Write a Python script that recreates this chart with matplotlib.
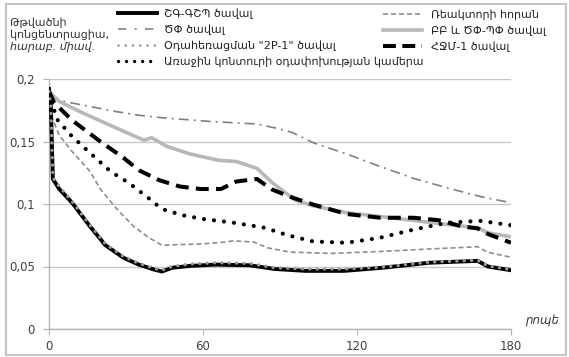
import matplotlib.pyplot as plt
from matplotlib.lines import Line2D
from matplotlib.patches import Rectangle

plt.rcParams['font.family'] = ['DejaVu Sans']

# time, minutes / concentration values
x_shg = [0, 0.7, 1.5, 4, 9, 16, 22, 29, 35, 41, 44, 48, 55, 65, 78, 88, 100, 115, 130, 148, 167, 171, 180]
y_shg = [0.192, 0.18, 0.12, 0.112, 0.101, 0.082, 0.067, 0.057, 0.0515, 0.0475, 0.046, 0.049, 0.0505,
         0.0515, 0.051, 0.048, 0.0465, 0.0465, 0.049, 0.053, 0.0545, 0.05, 0.047]

x_cp = [0, 6, 16, 26, 35, 44, 63, 81, 90, 95, 103, 116, 129, 142, 155, 168, 180]
y_cp = [0.186, 0.182, 0.178, 0.174, 0.171, 0.169, 0.166, 0.164, 0.16, 0.157, 0.149, 0.14, 0.13,
        0.1205, 0.113, 0.106, 0.101]

x_od = [0, 0.7, 1.5, 4, 9, 16, 22, 29, 35, 41, 44, 48, 55, 65, 78, 88, 100, 115, 130, 148, 167, 171, 180]
y_od = [0.19, 0.178, 0.121, 0.114, 0.102, 0.083, 0.068, 0.058, 0.0525, 0.0485, 0.047, 0.05, 0.052,
        0.053, 0.0525, 0.049, 0.048, 0.048, 0.0495, 0.0535, 0.055, 0.0505, 0.0475]

x_ar = [0, 3, 9, 17, 24, 31, 38, 44, 52, 60, 72, 84, 93, 103, 116, 129, 142, 155, 168, 180]
y_ar = [0.19, 0.168, 0.154, 0.139, 0.126, 0.117, 0.106, 0.096, 0.091, 0.088, 0.085, 0.081, 0.075,
        0.07, 0.069, 0.073, 0.0795, 0.085, 0.0865, 0.083]

x_re = [0, 1, 4, 9, 16, 20, 26, 33, 39, 44, 50, 59, 66, 72, 80, 85, 94, 110, 129, 148, 167, 171, 180]
y_re = [0.19, 0.17, 0.155, 0.142, 0.126, 0.112, 0.097, 0.082, 0.073, 0.067, 0.0675, 0.068, 0.069,
        0.0705, 0.0695, 0.065, 0.0615, 0.0605, 0.062, 0.064, 0.0658, 0.0613, 0.0574]

x_bb = [0, 4, 13, 26, 37, 40, 46, 55, 66, 73, 81, 87, 96, 103, 116, 129, 142, 155, 167, 171, 180]
y_bb = [0.19, 0.182, 0.173, 0.161, 0.151, 0.153, 0.146, 0.14, 0.135, 0.134, 0.1285, 0.117, 0.103,
        0.0985, 0.093, 0.09, 0.0868, 0.0837, 0.081, 0.077, 0.0737]

x_hj = [0, 2, 9, 20, 29, 35, 43, 51, 59, 67, 73, 81, 87, 95, 103, 116, 129, 142, 152, 161, 167, 171, 180]
y_hj = [0.19, 0.181, 0.167, 0.15, 0.137, 0.127, 0.119, 0.114, 0.112, 0.112, 0.118, 0.12, 0.1115,
        0.105, 0.0995, 0.092, 0.089, 0.089, 0.087, 0.082, 0.0805, 0.076, 0.069]

labels = ['ՇԳ-ԳՇՊ ծավալ', 'ԾՓ ծավալ', 'Օդահեռացման "2P-1" ծավալ',
          'Առաջին կոնտուրի օդափոխության կամերա', 'Ռեակտորի հորան',
          'ԲԲ և ԾՓ-ՊՓ ծավալ', 'ՀՋՄ-1 ծավալ']
xticks = [0, 60, 120, 180]
yticks = [0, 0.05, 0.1, 0.15, 0.2]
yticklabels = ['0', '0,05', '0,1', '0,15', '0,2']

fig = plt.figure(figsize=(5.69, 3.57), dpi=100)
ax = fig.add_axes([49 / 569, 1 - 329 / 357, 462 / 569, 250 / 357])

ax.plot(x_re, y_re, color='#8c8c8c', lw=1.2, ls=(0, (3, 1.8)), zorder=3)
ax.plot(x_cp, y_cp, color='#808080', lw=1.2, ls=(0, (6, 3, 1.2, 3)), zorder=3)
ax.plot(x_bb, y_bb, color='#b8b8b8', lw=2.6, solid_capstyle='butt', zorder=3)
ax.plot(x_hj, y_hj, color='black', lw=2.9, ls=(0, (3.2, 1.8)), zorder=4)
ax.plot(x_ar, y_ar, color='black', lw=3.0, ls=(0, (0.01, 2.4)), dash_capstyle='round', zorder=4)
ax.plot(x_shg, y_shg, color='black', lw=2.8, zorder=5)
ax.plot(x_od, y_od, color='#9a9a9a', lw=2.4, ls=(0, (0.01, 2.2)), dash_capstyle='round', zorder=6)

ax.set_xlim(0, 180)
ax.set_ylim(0, 0.2)
ax.set_xticks(xticks)
ax.set_xticklabels([str(t) for t in xticks])
ax.set_yticks(yticks)
ax.set_yticklabels(yticklabels)
ax.yaxis.grid(True, color='#c8c8c8', lw=1)
ax.set_axisbelow(True)
for s in ['top', 'right']:
    ax.spines[s].set_visible(False)
for s in ['left', 'bottom']:
    ax.spines[s].set_color('#b4b4b4')
    ax.spines[s].set_linewidth(1)
ax.tick_params(axis='both', colors='#b4b4b4', labelcolor='#404040', labelsize=8.5, length=4)
ax.tick_params(axis='y', pad=6)
ax.tick_params(axis='x', pad=4)

ax.text(1.068, 0.035, 'րոպե', transform=ax.transAxes, ha='center', va='center',
        fontsize=8.5, style='italic', color='#333333')

fig.text(10 / 569, 1 - 23 / 357, 'Թթվածնի', fontsize=8, color='#333333', va='center')
fig.text(10 / 569, 1 - 35 / 357, 'կոնցենտրացիա,', fontsize=8, color='#333333', va='center')
fig.text(10 / 569, 1 - 47 / 357, 'հարաբ. միավ.', fontsize=8, color='#333333', va='center', style='italic')

# legend handles
h = [
    Line2D([], [], color='black', lw=2.8),
    Line2D([], [], color='#808080', lw=1.2, ls=(0, (5, 5, 1.2, 5))),
    Line2D([], [], color='#9a9a9a', lw=2.0, ls=(0, (0.01, 2.6)), dash_capstyle='round'),
    Line2D([], [], color='black', lw=2.4, ls=(0, (0.01, 2.4)), dash_capstyle='round'),
    Line2D([], [], color='#8c8c8c', lw=1.2, ls=(0, (3, 1.8))),
    Line2D([], [], color='#b8b8b8', lw=2.6),
    Line2D([], [], color='black', lw=2.9, ls=(0, (3.2, 1.6))),
]
leg_kw = dict(frameon=False, fontsize=8, borderpad=0, borderaxespad=0,
              handlelength=3.5, labelspacing=0.48, labelcolor='#222222')
fig.legend(h[:4], labels[:4], loc='upper left', bbox_to_anchor=(118 / 569, 1 - 8 / 357),
           handletextpad=0.6, **leg_kw)
fig.legend(h[4:], labels[4:], loc='upper left', bbox_to_anchor=(383 / 569, 1 - 9 / 357),
           handletextpad=0.85, **leg_kw)

fig.add_artist(Rectangle((6 / 569, 2 / 357), 560 / 569, 351 / 357, transform=fig.transFigure,
                         fill=False, edgecolor='#c4c4c4', lw=1.5))

fig.savefig('out.png', dpi=100)
